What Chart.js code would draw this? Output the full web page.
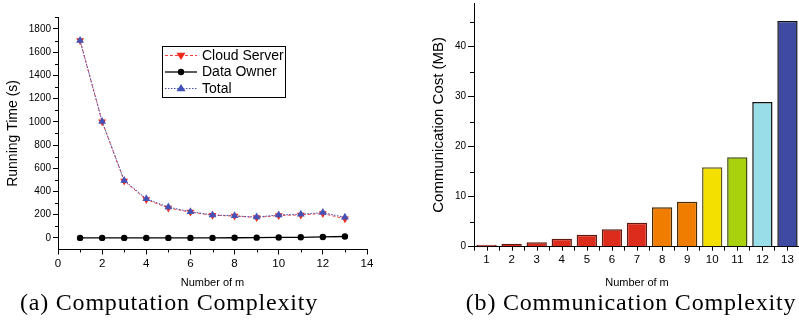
<!DOCTYPE html>
<html>
<head>
<meta charset="utf-8">
<script src="https://cdn.jsdelivr.net/npm/chart.js@4.4.1/dist/chart.umd.min.js"></script>
<style>
  html, body { margin: 0; padding: 0; background: #fff; width: 799px; height: 324px; overflow: hidden; }
  #timeChart { position: absolute; left: 0; top: 0; }
  #costChart { position: absolute; left: 400px; top: 0; }
  .caption {
    position: absolute; top: 289px; transform: translateX(-50%);
    font-family: "Liberation Serif", serif; font-size: 24px; letter-spacing: 0.8px;
    color: #000; white-space: nowrap;
  }
</style>
</head>
<body>
<canvas id="timeChart" width="400" height="296"></canvas>
<canvas id="costChart" width="400" height="296"></canvas>
<div class="caption" style="left:169px">(a) Computation Complexity</div>
<div class="caption" style="left:631px">(b) Communication Complexity</div>
<script>
  // (a) running time vs number of m
  const mValues = [1, 2, 3, 4, 5, 6, 7, 8, 9, 10, 11, 12, 13];
  const cloudServer = [1700, 1000, 490, 330, 258, 222, 195, 188, 176, 193, 198, 210, 165];
  const dataOwner = [0, 0, 0, 0, 0, 0, 0, 1, 2, 4, 5, 8, 12];
  const total = [1700, 1003, 495, 338, 265, 226, 198, 190, 179, 198, 204, 218, 177];
  const timeTicks = [0, 200, 400, 600, 800, 1000, 1200, 1400, 1600, 1800];
  const mTicks = [0, 2, 4, 6, 8, 10, 12, 14];

  // (b) communication cost vs number of m
  const commLabels = ['1', '2', '3', '4', '5', '6', '7', '8', '9', '10', '11', '12', '13'];
  const commCost = [0.4, 0.6, 0.9, 1.6, 2.4, 3.5, 4.8, 7.9, 9.0, 15.9, 17.9, 28.9, 45.1];
  const costTicks = [0, 10, 20, 30, 40];

  const barFill = ['#dd2c1c', '#dd2c1c', '#dd2c1c', '#dd2c1c', '#dd2c1c', '#dd2c1c', '#dd2c1c',
                   '#f07c00', '#f07c00', '#f4e000', '#a9d10c', '#98dde8', '#3f4ba3'];
  const barEdge = ['#5e1a10', '#5e1a10', '#5e1a10', '#5e1a10', '#5e1a10', '#5e1a10', '#5e1a10',
                   '#4a2a00', '#4a2a00', '#5e5620', '#3e4a06', '#111111', '#111111'];

  const pts = (ys) => mValues.map((m, i) => ({ x: m, y: ys[i] }));
  const tickFont = { family: 'Liberation Sans, Arial, sans-serif', size: 10 };
  const xTickFont = { family: 'Liberation Sans, Arial, sans-serif', size: 11.5 };
  const useTicks = (list) => (s) => { s.ticks = list.map(v => ({ value: v })); };
  const plain = (v) => String(v);

  // short minor tick marks, drawn through the chart's scales
  const minorTicks = {
    id: 'minorTicks',
    afterDraw(chart, args, opts) {
      const ctx = chart.ctx;
      ctx.save();
      ctx.strokeStyle = '#000';
      ctx.lineWidth = 1;
      (opts.list || []).forEach(m => {
        const s = chart.scales[m.scale];
        m.values.forEach(v => {
          const p = Math.round(s.getPixelForValue(v)) + 0.5;
          ctx.beginPath();
          if (s.axis === 'x') {
            ctx.moveTo(p, s.top);
            ctx.lineTo(p, s.top + m.len);
          } else {
            ctx.moveTo(s.right, p);
            ctx.lineTo(s.right - m.len, p);
          }
          ctx.stroke();
        });
      });
      ctx.restore();
    }
  };

  function marker(ctx, style, x, y, r) {
    ctx.beginPath();
    if (style === 'circle') {
      ctx.arc(x, y, r, 0, Math.PI * 2);
    } else if (style === 'down') {
      ctx.moveTo(x - r, y - r * 0.6);
      ctx.lineTo(x + r, y - r * 0.6);
      ctx.lineTo(x, y + r);
    } else {
      ctx.moveTo(x - r, y + r * 0.6);
      ctx.lineTo(x + r, y + r * 0.6);
      ctx.lineTo(x, y - r);
    }
    ctx.closePath();
    ctx.fill();
  }

  // boxed legend inside the plot, like the original
  const boxLegend = {
    id: 'boxLegend',
    afterDraw(chart) {
      const ctx = chart.ctx;
      ctx.save();
      ctx.strokeStyle = '#000';
      ctx.lineWidth = 1;
      ctx.strokeRect(162.5, 46.5, 123, 51);
      const rows = [
        { ds: chart.data.datasets[0], mk: 'down', y: 55.5 },
        { ds: chart.data.datasets[1], mk: 'circle', y: 72 },
        { ds: chart.data.datasets[2], mk: 'up', y: 88.5 }
      ];
      ctx.font = '14px "Liberation Sans", Arial, sans-serif';
      ctx.textBaseline = 'middle';
      rows.forEach(r => {
        ctx.strokeStyle = r.ds.borderColor;
        ctx.lineWidth = r.ds.borderWidth;
        ctx.setLineDash(r.ds.borderDash || []);
        ctx.beginPath();
        ctx.moveTo(165, r.y);
        ctx.lineTo(197, r.y);
        ctx.stroke();
        ctx.setLineDash([]);
        ctx.fillStyle = r.ds.pointBackgroundColor;
        marker(ctx, r.mk, 181, r.y, r.mk === 'circle' ? 3.2 : 4.5);
        ctx.fillStyle = '#000';
        ctx.fillText(r.ds.label, 202, r.y + 0.5);
      });
      ctx.restore();
    }
  };

  new Chart(document.getElementById('timeChart'), {
    type: 'line',
    data: {
      datasets: [
        {
          label: 'Cloud Server', data: pts(cloudServer), order: 2,
          borderColor: '#f04040', borderWidth: 1, borderDash: [3, 2],
          pointStyle: 'triangle', rotation: 180, pointRadius: 4.5,
          pointBackgroundColor: '#ee2a1a', pointBorderColor: '#ee2a1a', pointBorderWidth: 0
        },
        {
          label: 'Data Owner', data: pts(dataOwner), order: 1,
          borderColor: '#000', borderWidth: 1.3,
          pointStyle: 'circle', pointRadius: 3.2,
          pointBackgroundColor: '#000', pointBorderColor: '#000', pointBorderWidth: 0
        },
        {
          label: 'Total', data: pts(total), order: 0,
          borderColor: '#4455bb', borderWidth: 1, borderDash: [1.5, 1.5],
          pointStyle: 'triangle', pointRadius: 4.5,
          pointBackgroundColor: '#4352b8', pointBorderColor: '#4352b8', pointBorderWidth: 0
        }
      ]
    },
    options: {
      responsive: false, animation: false,
      layout: { padding: { top: 17.3, left: 0, right: 33, bottom: 0 } },
      plugins: {
        legend: { display: false }, tooltip: { enabled: false },
        minorTicks: {
          list: [
            { scale: 'x', values: [1, 3, 5, 7, 9, 11, 13], len: 3 },
            { scale: 'y', values: [100, 300, 500, 700, 900, 1100, 1300, 1500, 1700, 1900], len: 3 }
          ]
        }
      },
      scales: {
        x: {
          type: 'linear', min: 0, max: 14,
          ticks: { color: '#000', font: xTickFont, padding: 2, maxRotation: 0, callback: plain },
          afterBuildTicks: useTicks(mTicks),
          grid: { drawOnChartArea: false, tickLength: 5, color: '#000' },
          border: { color: '#000', width: 1 },
          title: { display: true, text: 'Number of m', color: '#000',
                   font: { family: 'Liberation Sans, Arial, sans-serif', size: 11 },
                   padding: { top: 0, bottom: 6 } },
          afterFit: (s) => { s.height = 296 - 249.5; }
        },
        y: {
          min: -100, max: 1900,
          ticks: { color: '#000', font: tickFont, padding: 2, callback: plain },
          afterBuildTicks: useTicks(timeTicks),
          grid: { drawOnChartArea: false, tickLength: 5, color: '#000' },
          border: { color: '#000', width: 1 },
          title: { display: true, text: 'Running Time (s)', color: '#000',
                   font: { family: 'Liberation Sans, Arial, sans-serif', size: 14 },
                   padding: { top: 4.6, bottom: 0 } },
          afterFit: (s) => { s.width = 58; }
        }
      }
    },
    plugins: [minorTicks, boxLegend]
  });

  new Chart(document.getElementById('costChart'), {
    type: 'bar',
    data: {
      labels: commLabels,
      datasets: [{
        label: 'Communication Cost (MB)', data: commCost,
        backgroundColor: barFill, borderColor: barEdge, borderWidth: 1.5,
        barPercentage: 0.81, categoryPercentage: 1
      }]
    },
    options: {
      responsive: false, animation: false,
      layout: { padding: { top: 3, left: 0, right: 0, bottom: 0 } },
      plugins: {
        legend: { display: false }, tooltip: { enabled: false },
        minorTicks: {
          list: [
            { scale: 'x', values: [0, 1, 2, 3, 4, 5, 6, 7, 8, 9, 10, 11, 12], len: 4 },
            { scale: 'y', values: [5, 15, 25, 35, 45], len: 4 }
          ]
        }
      },
      scales: {
        x: {
          ticks: { color: '#000', font: xTickFont, padding: 2, maxRotation: 0 },
          grid: { offset: true, drawOnChartArea: false, tickLength: 4, color: '#000' },
          border: { color: '#000', width: 1 },
          title: { display: true, text: 'Number of m', color: '#000',
                   font: { family: 'Liberation Sans, Arial, sans-serif', size: 11 },
                   padding: { top: 0, bottom: 6 } },
          afterFit: (s) => { s.height = 296 - 246.7; s.paddingLeft = 0; s.paddingRight = 0; }
        },
        y: {
          min: 0, max: 48.7,
          ticks: { color: '#000', font: tickFont, padding: 2, callback: plain },
          afterBuildTicks: useTicks(costTicks),
          grid: { drawOnChartArea: false, tickLength: 6, color: '#000' },
          border: { color: '#000', width: 1 },
          title: { display: true, text: 'Communication Cost (MB)', color: '#000',
                   font: { family: 'Liberation Sans, Arial, sans-serif', size: 15 },
                   padding: { top: 30, bottom: 0 } },
          afterFit: (s) => { s.width = 74; s.paddingTop = 0; s.paddingBottom = 0; }
        }
      }
    },
    plugins: [minorTicks]
  });
</script>
</body>
</html>
